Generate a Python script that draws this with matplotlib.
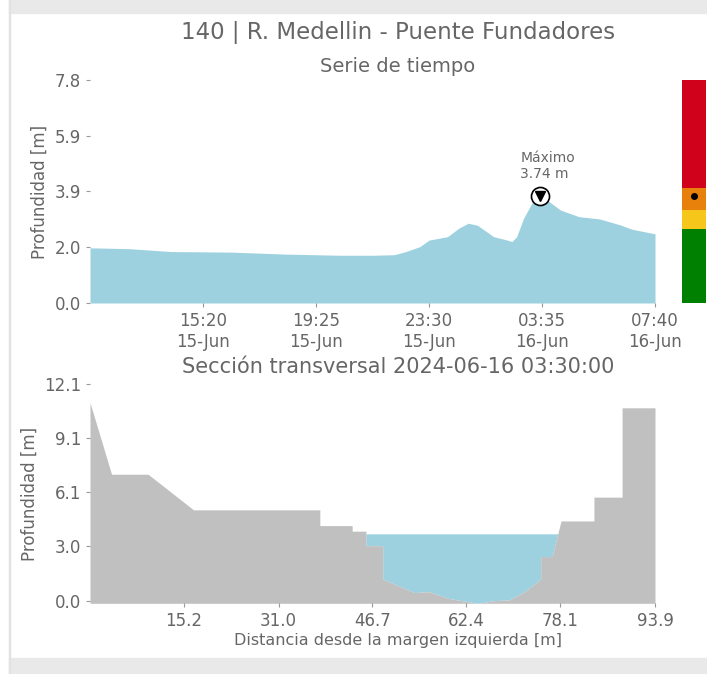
import matplotlib as mpl
mpl.use('Agg')
import matplotlib.pyplot as plt
import matplotlib.dates as mdates
from matplotlib.patches import Rectangle
import pandas as pd

# data ########################################

station = '140 | R. Medellin - Puente Fundadores'
section_time = '2024-06-16 03:30:00'

times = ['2024-06-15 11:15', '2024-06-15 12:40', '2024-06-15 14:10', '2024-06-15 16:20',
         '2024-06-15 18:20', '2024-06-15 20:15', '2024-06-15 21:30', '2024-06-15 22:15',
         '2024-06-15 22:40', '2024-06-15 23:10', '2024-06-15 23:30', '2024-06-16 00:10',
         '2024-06-16 00:35', '2024-06-16 00:55', '2024-06-16 01:15', '2024-06-16 01:50',
         '2024-06-16 02:15', '2024-06-16 02:30', '2024-06-16 02:40', '2024-06-16 02:55',
         '2024-06-16 03:15', '2024-06-16 03:30', '2024-06-16 03:50', '2024-06-16 04:15',
         '2024-06-16 04:55', '2024-06-16 05:40', '2024-06-16 06:25', '2024-06-16 06:50',
         '2024-06-16 07:40']
levels = [1.93, 1.90, 1.80, 1.78, 1.71, 1.67, 1.67, 1.69,
          1.80, 1.97, 2.20, 2.32, 2.62, 2.79, 2.72, 2.32,
          2.22, 2.15, 2.32, 2.96, 3.55, 3.74, 3.55, 3.25,
          3.02, 2.94, 2.73, 2.58, 2.42]

time_ticks = ['2024-06-15 15:20', '2024-06-15 19:25', '2024-06-15 23:30',
              '2024-06-16 03:35', '2024-06-16 07:40']
level_ticks = [0.0, 1.95, 3.9, 5.85, 7.8]
level_labels = ['0.0', '2.0', '3.9', '5.9', '7.8']

# alert thresholds (green, yellow, orange, red)
thresholds = [0.0, 2.58, 3.25, 4.03, 7.8]
alert_colors = ['#008000', '#f6c61b', '#e8800c', '#d0011b']

dist = [-0.5, 3.1, 9.2, 16.8, 37.9, 37.9, 43.3, 43.3, 45.6, 45.6, 48.4, 48.4,
        50.3, 53.7, 56.2, 59.3, 64.3, 67.1, 69.6, 72.1, 74.8, 74.8, 76.7, 78.2,
        83.7, 83.7, 88.4, 88.4, 93.9]
ground = [11.06, 7.06, 7.06, 5.07, 5.07, 4.19, 4.19, 3.88, 3.88, 3.07, 3.07, 1.20,
          0.93, 0.45, 0.50, 0.13, -0.15, 0.0, 0.04, 0.50, 1.20, 2.46, 2.46, 4.45,
          4.45, 5.78, 5.78, 10.77, 10.77]
water_level = 3.73
dist_ticks = [15.2, 31.0, 46.7, 62.4, 78.1, 93.9]
depth_ticks = [0.0, 3.025, 6.05, 9.075, 12.1]
depth_labels = ['0.0', '3.0', '6.1', '9.1', '12.1']

# figure ######################################

txt = '#666666'
blue = '#9dd1e0'
grey = '#c0c0c0'

fig = plt.figure(figsize=(7.07, 6.74), dpi=100)
W, H = 707.0, 674.0

# frame bands
fig.patches.append(Rectangle((9 / W, 1 - 13 / H), 1, 13 / H, transform=fig.transFigure,
                             color='#e9e9e9', zorder=0))
fig.patches.append(Rectangle((9 / W, 0), 1, 16 / H, transform=fig.transFigure,
                             color='#e9e9e9', zorder=0))
fig.patches.append(Rectangle((9 / W, 0), 1.2 / W, 1, transform=fig.transFigure,
                             color='#e2e2e2', zorder=0))

fig.text(0.5628, 1 - 33 / H, station, ha='center', va='center', fontsize=16.5, color=txt)

def style(ax):
    for s in ax.spines.values():
        s.set_visible(False)
    ax.tick_params(length=3, color='#999999', labelcolor=txt, labelsize=12, width=0.8)
    ax.set_facecolor('none')

# time series
t = pd.to_datetime(times)
ax1 = fig.add_axes([90 / W, 1 - 303 / H, 565 / W, 223 / H])
ax1.fill_between(t, levels, 0, color=blue, lw=0)
imax = levels.index(max(levels))
ax1.plot(t[imax], levels[imax], 'o', ms=13, mfc='white', mec='black', mew=1.2, zorder=5)
ax1.plot(t[imax], levels[imax], 'v', ms=7, color='black', zorder=6)
ax1.annotate('Máximo\n%.2f m' % levels[imax], xy=(t[imax], levels[imax]),
             xytext=(-14, 11), textcoords='offset points', ha='left', va='bottom',
             fontsize=10, color=txt)
ax1.set_xlim(pd.Timestamp('2024-06-15 11:15'), pd.Timestamp('2024-06-16 07:40'))
ax1.set_ylim(0, 7.8)
ax1.set_xticks(pd.to_datetime(time_ticks))
ax1.xaxis.set_major_formatter(mdates.DateFormatter('%H:%M\n%d-%b'))
ax1.set_yticks(level_ticks)
ax1.set_yticklabels(level_labels)
ax1.set_ylabel('Profundidad [m]', fontsize=12, color=txt)
ax1.set_title('Serie de tiempo', fontsize=14, color=txt, pad=6, x=0.545)
style(ax1)

# alert bar
axc = fig.add_axes([682 / W, 1 - 303 / H, 24 / W, 223 / H])
for i in range(len(alert_colors)):
    axc.axhspan(thresholds[i], thresholds[i + 1], color=alert_colors[i], lw=0)
axc.plot(0.5, levels[imax], 'o', color='black', ms=4)
axc.set_xlim(0, 1)
axc.set_ylim(0, 7.8)
axc.axis('off')

# cross section
ax2 = fig.add_axes([90 / W, 1 - 603.3 / H, 565 / W, 219.3 / H])
ax2.fill_between(dist, ground, water_level, where=[g < water_level for g in ground],
                 interpolate=True, color=blue, lw=0)
ax2.fill_between(dist, ground, min(ground), color=grey, lw=0)
ax2.set_xlim(dist[0], dist[-1])
ax2.set_ylim(min(ground), 12.1)
ax2.set_xticks(dist_ticks)
ax2.set_xticklabels(['%.1f' % d for d in dist_ticks])
ax2.set_yticks(depth_ticks)
ax2.set_yticklabels(depth_labels)
ax2.set_ylabel('Profundidad [m]', fontsize=12, color=txt)
ax2.set_xlabel('Distancia desde la margen izquierda [m]', fontsize=11.5, color=txt)
ax2.xaxis.set_label_coords(0.545, -0.135)
ax2.set_title('Sección transversal ' + section_time, fontsize=15, color=txt, pad=8, x=0.545)
style(ax2)

fig.savefig('out.png', dpi=100)
